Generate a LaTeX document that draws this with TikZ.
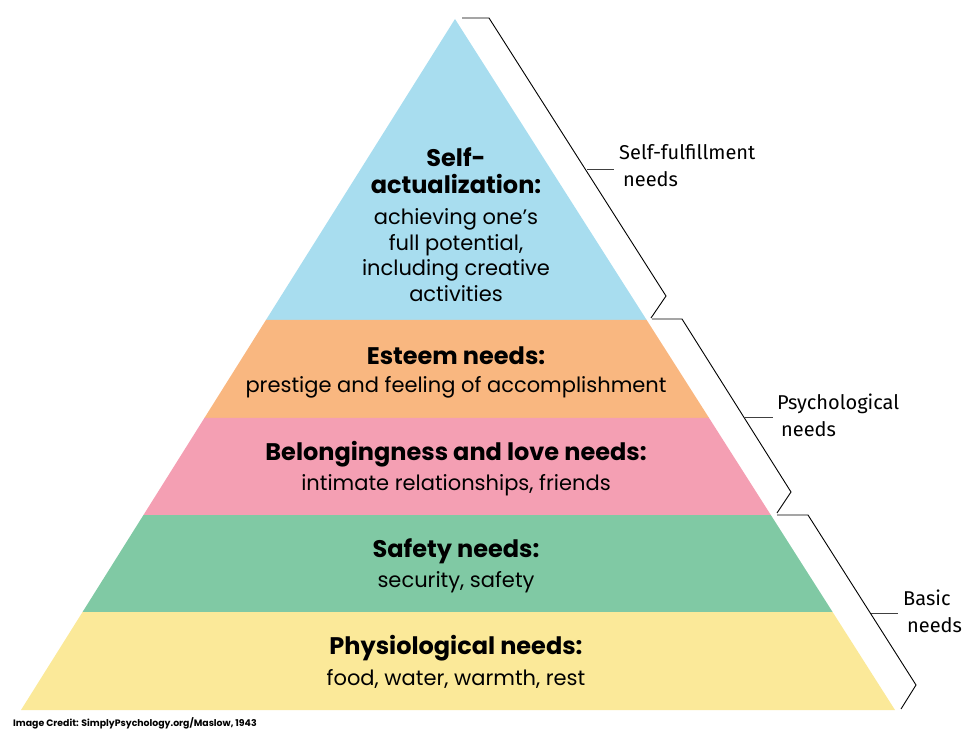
\documentclass[tikz,border=0pt]{standalone}
\usepackage{fontspec}
\setmainfont{Poppins}
\newfontfamily\sidefont{Fira Sans}
\usetikzlibrary{calc}
\definecolor{cblue}{RGB}{168,221,239}
\definecolor{corange}{RGB}{249,183,128}
\definecolor{cpink}{RGB}{244,159,179}
\definecolor{cgreen}{RGB}{128,201,164}
\definecolor{cyellow}{RGB}{251,233,153}
\tikzset{
  head/.style={font=\fontsize{24}{27}\selectfont\bfseries, align=center, inner sep=0pt},
  body/.style={font=\fontsize{21}{25.5}\selectfont, align=center, inner sep=0pt},
  side/.style={font=\sidefont\fontsize{20}{27}\selectfont, align=left, anchor=west, inner sep=0pt},
  brk/.style={draw=black, line width=0.9pt, line join=miter},
  tick/.style={draw=black!75, line width=0.9pt},
}
\begin{document}
\begin{tikzpicture}[x=1pt,y=-1pt]
\useasboundingbox (0,0) rectangle (980,738);
\coordinate (A) at (455,19);
\coordinate (BL) at (21,710);
\coordinate (BR) at (895,710);
\foreach \t/\n in {0.4356/1,0.5774/2,0.7178/3,0.8582/4}{
  \coordinate (L\n) at ($(A)!\t!(BL)$);
  \coordinate (R\n) at ($(A)!\t!(BR)$);
}
\fill[cblue] (A) -- (R1) -- (L1) -- cycle;
\fill[corange] (L1) -- (R1) -- (R2) -- (L2) -- cycle;
\fill[cpink] (L2) -- (R2) -- (R3) -- (L3) -- cycle;
\fill[cgreen] (L3) -- (R3) -- (R4) -- (L4) -- cycle;
\fill[cyellow] (L4) -- (R4) -- (BR) -- (BL) -- cycle;

\node[head] (h1) at (456,171) {Self-\\actualization:};
\node[body] (b1) at (456,255) {achieving one’s\\full potential,\\including creative\\activities};
\node[head] (h2) at (456,356) {Esteem needs:};
\node[body] (b2) at (456,387) {prestige and feeling of accomplishment};
\node[head] (h3) at (456,454) {Belongingness and love needs:};
\node[body] (b3) at (456,485) {intimate relationships, friends};
\node[head] (h4) at (456,551) {Safety needs:};
\node[body] (b4) at (456,582) {security, safety};
\node[head] (h5) at (456,648) {Physiological needs:};
\node[body] (b5) at (456,679) {food, water, warmth, rest};

% brackets
\draw[brk] (462,18) -- (489,18) -- (666,296) -- (651,318);
\draw[brk] (652,319) -- (682,319) -- (791,492) -- (777,513);
\draw[brk] (777,515) -- (808,515) -- (916,685) -- (901,709);
\node[side] (s1) at (619,166) {Self-fulfillment\\\hspace*{4pt}needs};
\node[side] (s2) at (777,415) {Psychological\\\hspace*{4pt}needs};
\node[side] (s3) at (903,611) {Basic\\\hspace*{4pt}needs};
\coordinate (t1) at (587,169);
\coordinate (t2) at (745,417);
\coordinate (t3) at (871,613);
\draw[tick] (t1) -- (614,169);
\draw[tick] (t2) -- (773,417);
\draw[tick] (t3) -- (898,613);

\node[font=\fontsize{9.35}{11}\selectfont\bfseries, anchor=west, inner sep=0pt] (credit) at (13,723) {Image Credit: SimplyPsychology.org/Maslow, 1943};
\end{tikzpicture}
\end{document}
